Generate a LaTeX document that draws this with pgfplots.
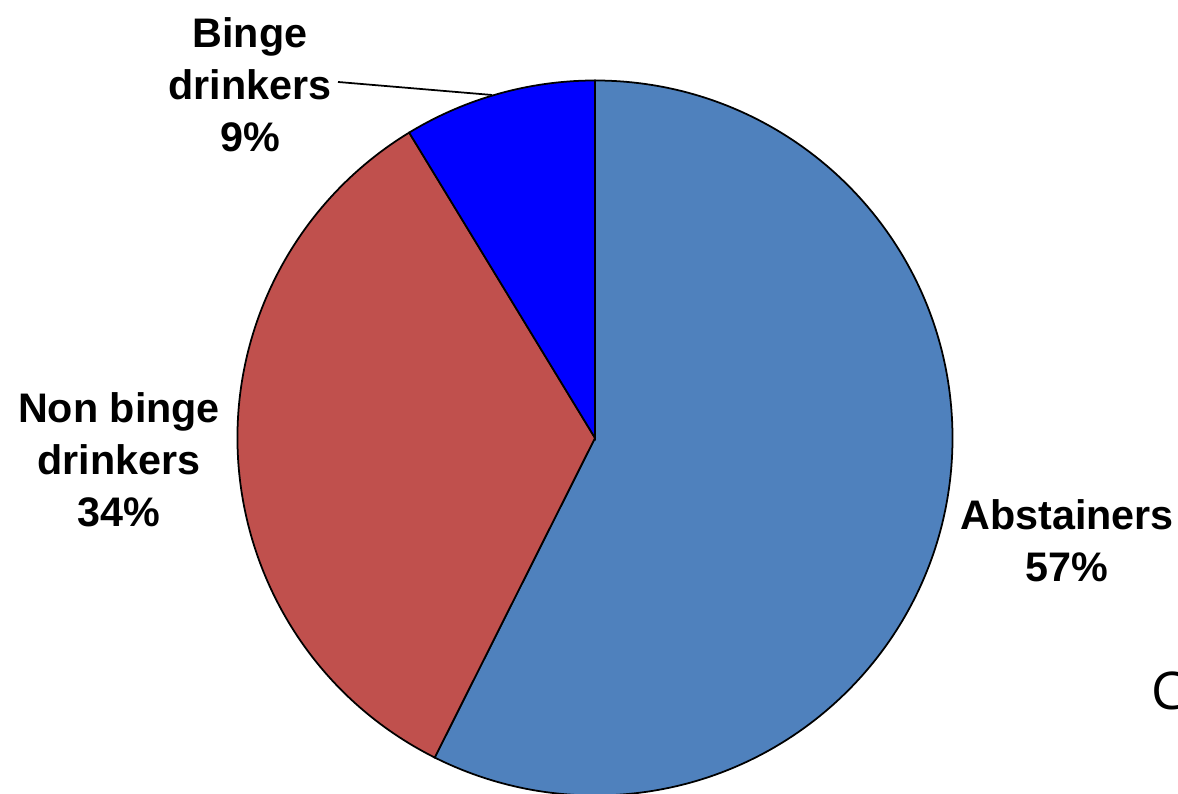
\documentclass[border=0pt]{standalone}
\usepackage{pgfplots}
\pgfplotsset{compat=1.18}
\usepackage{fontspec}
\setmainfont{Liberation Sans}
\newfontfamily\cfont{Open Sans}
\definecolor{abst}{HTML}{4F81BD}
\definecolor{nonb}{HTML}{C0504D}
\definecolor{binge}{HTML}{0000FF}
\begin{document}
\begin{tikzpicture}
\useasboundingbox (0,0) rectangle (11.78cm,7.94cm);
\begin{axis}[hide axis, scale only axis, width=11.78cm, height=7.94cm,
  xmin=0, xmax=1178, ymin=0, ymax=794, clip=false, anchor=south west, at={(0,0)}]
\addplot[draw=none, forget plot] coordinates {(0,0) (1178,794)};
\pgfplotsextra{
  \gdef\s{90}
  \foreach \v/\c in {57.4/abst,33.9/nonb,8.7/binge}{
    \pgfmathsetmacro{\e}{\s-3.6*\v}
    \filldraw[fill=\c, draw=black, line width=0.5pt]
      (axis cs:595,356) -- ++(\s:3.575cm) arc[start angle=\s, end angle=\e, radius=3.575cm] -- cycle;
    \xdef\s{\e}
  }
  \draw[black, line width=0.5pt] (axis cs:338,712) -- (axis cs:492,699);
}
\tikzset{lbl/.style={align=center, font=\bfseries\fontsize{11.75}{14.8}\selectfont}}
\node[lbl] at (axis cs:250,709) {Binge\\drinkers\\9\%};
\node[lbl] at (axis cs:119,334) {Non binge\\drinkers\\34\%};
\node[lbl] at (axis cs:1067,253) {Abstainers\\57\%};
\node[anchor=base west, inner sep=0pt, font=\cfont\fontsize{14.8}{18}\selectfont] at (axis cs:1151,84) {C};
\end{axis}
\end{tikzpicture}
\end{document}
